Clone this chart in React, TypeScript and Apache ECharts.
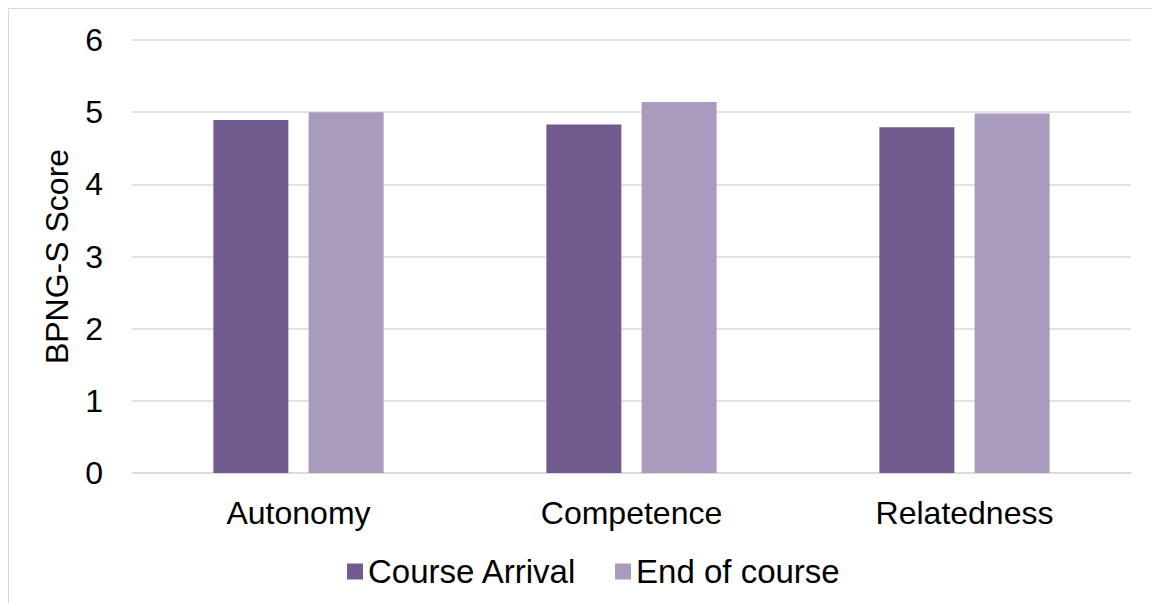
import React, { useEffect, useRef } from "react";
import * as echarts from "echarts";

// Basic psychological need scores, before and after the course
const categories = ["Autonomy", "Competence", "Relatedness"];
const courseArrival = [4.89, 4.83, 4.79];
const endOfCourse = [5.0, 5.14, 4.98];
const yTicks = { min: 0, max: 6, interval: 1 };

const seriesNames = ["Course Arrival", "End of course"];
const colors = ["#715a8d", "#a99bbd"];
const font = "Arial";
const fontSize = 32;

export default function App() {
  const ref = useRef<HTMLDivElement>(null);

  useEffect(() => {
    if (!ref.current) return;
    const chart = echarts.init(ref.current, null, { renderer: "svg" });
    chart.setOption({
      animation: false,
      backgroundColor: "#ffffff",
      textStyle: { fontFamily: font },
      graphic: [
        {
          type: "rect",
          shape: { x: 8.5, y: 8.5, width: 1300, height: 800 },
          style: { fill: "none", stroke: "#d9d9d9", lineWidth: 1 },
          silent: true,
          z: -10,
        },
      ],
      grid: { left: 132, right: 21, top: 40, bottom: 130, containLabel: false },
      legend: {
        data: seriesNames,
        top: 550,
        left: 342,
        icon: "rect",
        itemWidth: 16,
        itemHeight: 16,
        itemGap: 38,
        textStyle: { fontSize: 33, color: "#000000", fontFamily: font },
      },
      xAxis: {
        type: "category",
        data: categories,
        axisLine: { show: true, lineStyle: { color: "#d9d9d9", width: 1.5 } },
        axisTick: { show: false },
        axisLabel: { fontSize, color: "#000000", margin: 24, fontFamily: font },
      },
      yAxis: {
        type: "value",
        min: yTicks.min,
        max: yTicks.max,
        interval: yTicks.interval,
        name: "BPNG-S Score",
        nameLocation: "middle",
        nameRotate: 90,
        nameGap: 59,
        nameTextStyle: { fontSize, color: "#000000", fontFamily: font },
        axisLine: { show: false },
        axisTick: { show: false },
        axisLabel: { fontSize, color: "#000000", margin: 29, fontFamily: font },
        splitLine: { lineStyle: { color: "#d9d9d9", width: 1.5 } },
      },
      series: [
        {
          name: seriesNames[0],
          type: "bar",
          data: courseArrival,
          barWidth: 75,
          barGap: "27%",
          itemStyle: { color: colors[0] },
        },
        {
          name: seriesNames[1],
          type: "bar",
          data: endOfCourse,
          barWidth: 75,
          barGap: "27%",
          itemStyle: { color: colors[1] },
        },
      ],
    });
    return () => chart.dispose();
  }, []);

  return (
    <div
      ref={ref}
      style={{ position: "fixed", left: 0, top: 0, width: 1152, height: 603 }}
    />
  );
}
